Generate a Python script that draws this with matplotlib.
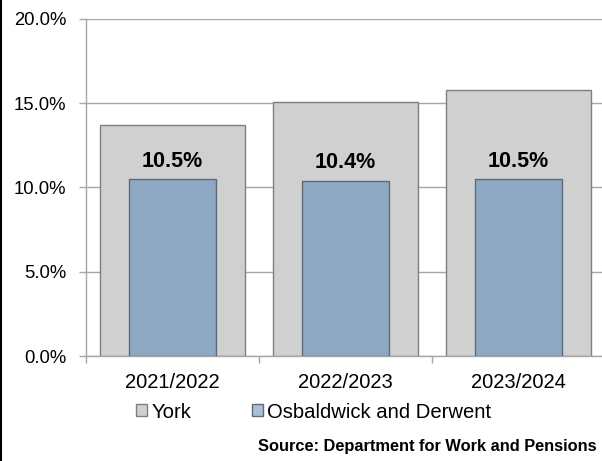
import matplotlib
matplotlib.use("Agg")
import matplotlib.pyplot as plt
from matplotlib.patches import Patch
from matplotlib.lines import Line2D
import numpy as np

plt.rcParams['font.family'] = ['Liberation Sans', 'DejaVu Sans']

categories = ["2021/2022", "2022/2023", "2023/2024"]
york = [13.7, 15.1, 15.8]
osbaldwick = [10.5, 10.4, 10.5]
yticks = [0, 5, 10, 15, 20]

york_color = "#d0d0d0"
york_edge = "#7f7f7f"
osb_color = "#8ca8c3"
osb_edge = "#5d6b79"
grid_color = "#a6a6a6"

fig = plt.figure(figsize=(6.02, 4.61), dpi=100)
ax = fig.add_axes([86/602, 105/461, 519/602, 337/461])

x = np.arange(len(categories))
ax.bar(x, york, width=0.84, color=york_color, edgecolor=york_edge, linewidth=1.0, zorder=2)
ax.bar(x, osbaldwick, width=0.5, color=osb_color, edgecolor=osb_edge, linewidth=1.0, zorder=3)

for xi, v in zip(x, osbaldwick):
    ax.annotate(f"{v:.1f}%", (xi, v), xytext=(0, 13.0), textcoords="offset points",
                ha="center", va="center", fontsize=15.5, fontweight="bold", color="#000000", zorder=4)

ax.set_xlim(-0.5, len(categories) - 0.5)
ax.set_ylim(0, 20)
ax.set_yticks(yticks)
ax.set_yticklabels([f"{t:.1f}%" for t in yticks], fontsize=13.3)
ax.yaxis.grid(True, color=grid_color, linewidth=1.0, zorder=0)
ax.set_axisbelow(True)

ax.set_xticks(x)
ax.set_xticklabels(categories, fontsize=14.5)
ax.set_xticks(np.arange(len(categories) + 1) - 0.5, minor=True)
ax.tick_params(axis="x", which="major", length=0, pad=12)
ax.tick_params(axis="x", which="minor", length=5, color=grid_color, width=1.0)
ax.tick_params(axis="y", length=5, color=grid_color, width=1.0, pad=9)

for s in ["top", "right"]:
    ax.spines[s].set_visible(False)
for s in ["left", "bottom"]:
    ax.spines[s].set_color(grid_color)
    ax.spines[s].set_linewidth(1.0)

handles = [Patch(facecolor=york_color, edgecolor=york_edge, label="York"),
           Patch(facecolor="#a9c0da", edgecolor=osb_edge, label="Osbaldwick and Derwent")]
fig.legend(handles=handles, loc="center left", bbox_to_anchor=(136/602, 1 - 412/461), ncol=2,
           frameon=False, fontsize=14.6, handlelength=0.55, handleheight=0.55, handletextpad=0.2,
           columnspacing=3.0, borderaxespad=0, borderpad=0)

fig.text(597/602, 1 - 446/461, "Source: Department for Work and Pensions", ha="right", va="center",
         fontsize=11.75, fontweight="bold")

fig.add_artist(Line2D([0.5/602, 0.5/602], [0, 1], color="black", linewidth=1.5, transform=fig.transFigure))

fig.savefig("out.png", dpi=100)
